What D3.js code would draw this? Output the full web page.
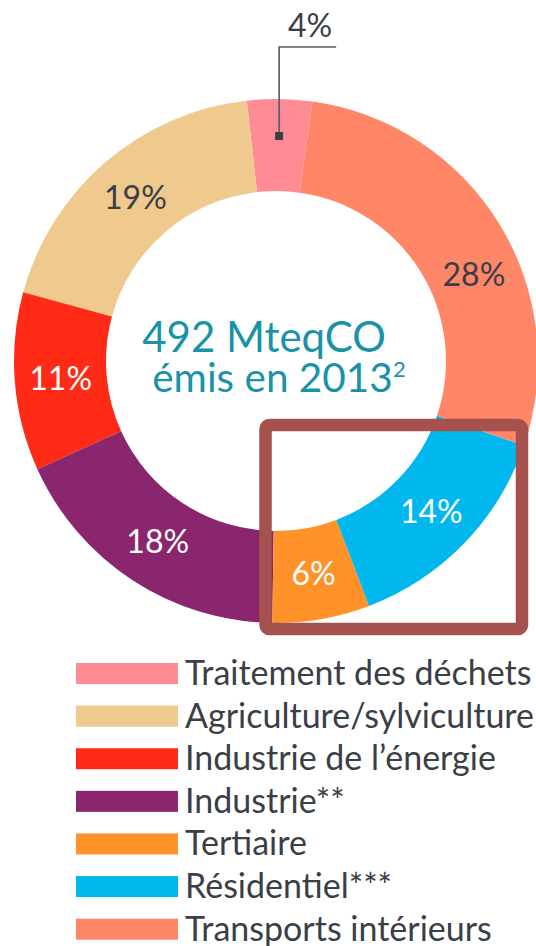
<!DOCTYPE html>
<html>
<head>
<meta charset="utf-8">
<script src="https://cdn.jsdelivr.net/npm/d3@7"></script>
<style>
  body { margin: 0; background: #fff; }
  svg { display: block; font-family: Lato, "Open Sans", sans-serif; }
</style>
</head>
<body>
<svg id="chart" width="536" height="946"></svg>
<script>
// data (legend order, drawn counter-clockwise from the top)
var categories = ["Traitement des déchets", "Agriculture/sylviculture", "Industrie de l’énergie",
                  "Industrie**", "Tertiaire", "Résidentiel***", "Transports intérieurs"];
var shares = [4, 19, 11, 18, 6, 14, 28];
var colors = ["#ff8b95", "#f0c98e", "#ff2b17", "#8a266e", "#ff9329", "#00b8ee", "#ff8666"];
var totalLine1 = "492 MteqCO";
var totalSub = "2";
var totalLine2 = "émis en 2013";

var svg = d3.select("#chart"),
    cx = 276, cy = 361,
    rOut = 262, rIn = 170,
    rad = Math.PI / 180,
    dark = "#3a3f47";

var rows = categories.map(function(c, i) { return {name: c, v: shares[i], color: colors[i]}; });

var pie = d3.pie().sort(null).value(function(d) { return d.v; })
  .startAngle(8 * rad).endAngle(8 * rad - 2 * Math.PI);
var arc = d3.arc().innerRadius(rIn).outerRadius(rOut);
var arcs = pie(rows);

var g = svg.append("g").attr("transform", "translate(" + cx + "," + cy + ")");

g.selectAll("path.slice")
  .data(arcs)
  .enter()
  .append("path")
  .attr("class", "slice")
  .attr("d", arc)
  .attr("fill", function(d) { return d.data.color; });

// labels inside the ring (small slice gets a leader)
var nudge = {"Transports intérieurs": 8 * rad};  // label sits a bit lower in the original

g.selectAll("text.pct")
  .data(arcs.filter(function(d) { return d.data.v >= 5; }))
  .enter()
  .append("text")
  .attr("class", "pct")
  .attr("transform", function(d) {
    var a = (d.startAngle + d.endAngle) / 2 + (nudge[d.data.name] || 0),
        r = (rIn + rOut) / 2;
    return "translate(" + (r * Math.sin(a)) + "," + (-r * Math.cos(a)) + ")";
  })
  .attr("text-anchor", "middle")
  .attr("dy", "0.36em")
  .attr("font-size", 32)
  .attr("fill", function(d) { return d3.hsl(d.data.color).l > 0.65 ? dark : "#fff"; })
  .text(function(d) { return d.data.v + "%"; });

// leader for the thin slice
arcs.filter(function(d) { return d.data.v < 5; }).forEach(function(d) {
  var a = (d.startAngle + d.endAngle) / 2,
      px = 225 * Math.sin(a), py = -225 * Math.cos(a),
      topY = -314;
  g.append("path")
    .attr("d", "M" + (px + 57) + "," + topY + "H" + px + "V" + py)
    .attr("fill", "none").attr("stroke", "#555a62").attr("stroke-width", 1.6);
  g.append("rect")
    .attr("x", px - 4).attr("y", py - 4).attr("width", 8).attr("height", 8)
    .attr("fill", "#3a3f47");
  g.append("text")
    .attr("x", px + 31).attr("y", topY - 10)
    .attr("text-anchor", "middle")
    .attr("font-size", 32).attr("fill", dark)
    .text(d.data.v + "%");
});

// centre text
var teal = "#1a92a8";
g.append("text").attr("x", -12).attr("y", -9)
  .attr("text-anchor", "middle").attr("font-size", 42).attr("fill", teal)
  .text(totalLine1);
g.append("text").attr("x", -3.5).attr("y", 31)
  .attr("text-anchor", "middle").attr("font-size", 40.5).attr("fill", teal)
  .text(totalLine2);
g.append("text").attr("x", 117).attr("y", 16)
  .attr("font-size", 22).attr("fill", teal).text(totalSub);

// highlight box
svg.append("rect")
  .attr("x", 265.5).attr("y", 425).attr("width", 256.5).attr("height", 204)
  .attr("rx", 4)
  .attr("fill", "none").attr("stroke", "#a5524f").attr("stroke-width", 12.5);

// legend
var y = d3.scaleBand().domain(categories).range([663, 940]).paddingInner(0.5).paddingOuter(0);
var leg = svg.append("g").selectAll("g")
  .data(rows)
  .enter()
  .append("g")
  .attr("transform", function(d) { return "translate(76," + y(d.name) + ")"; });

leg.append("rect")
  .attr("width", 102)
  .attr("height", 21)
  .attr("fill", function(d) { return d.color; });

leg.append("text")
  .attr("x", 109)
  .attr("y", 22)
  .attr("font-size", 34)
  .attr("fill", dark)
  .text(function(d) { return d.name; });
</script>
</body>
</html>
